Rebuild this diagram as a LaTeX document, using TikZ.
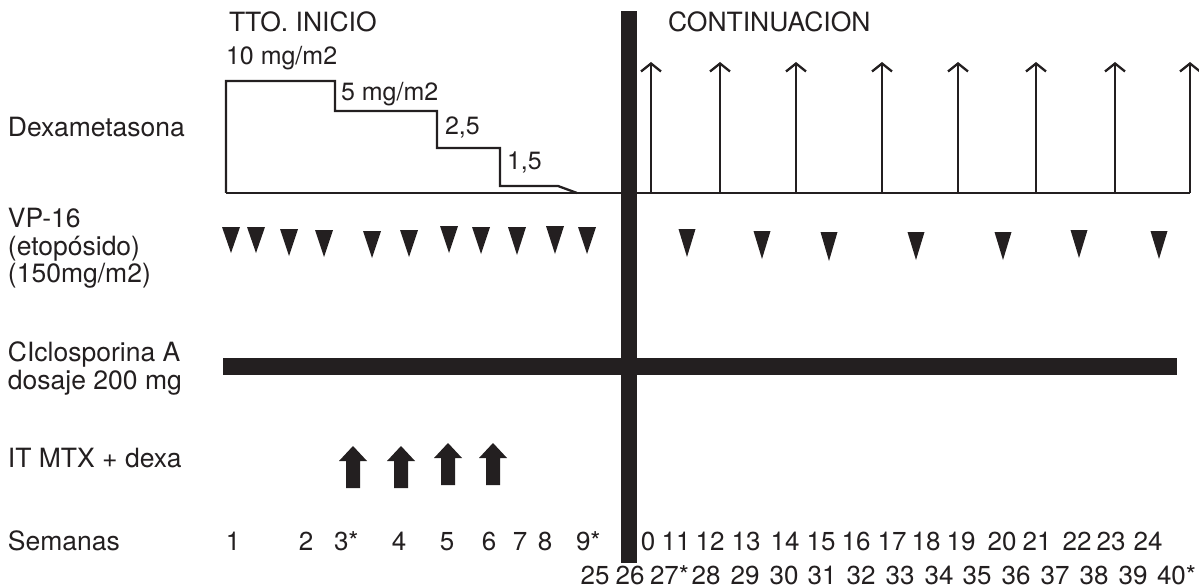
\documentclass[tikz,border=0pt]{standalone}
\usepackage{fontspec}
\setmainfont{TeX Gyre Heros}
\usetikzlibrary{arrows.meta}
\definecolor{ink}{HTML}{231F20}
\begin{document}
\begin{tikzpicture}[x=1pt,y=-1pt,
  every node/.style={inner sep=0pt,outer sep=0pt,text=ink},
  lbl/.style={anchor=base west,font=\fontsize{26.5}{29}\selectfont},
  dlbl/.style={anchor=base west,font=\fontsize{25}{27}\selectfont},
  num/.style={anchor=base,font=\fontsize{26}{28}\selectfont},
  numw/.style={anchor=base west,font=\fontsize{26}{28}\selectfont},
  thin/.style={draw=ink,line width=2.3pt},
  dose/.style={thin,-{Straight Barb[length=8pt,width=20pt,line width=2.3pt]}},
  tri/.style={fill=ink},
  itarrow/.style={fill=ink}]
\useasboundingbox (0,0) rectangle (1199,588);

% headers
\node[lbl] (tto) at (229,32) {TTO. INICIO};
\node[lbl] (cont) at (668,32) {CONTINUACION};

% row labels
\node[lbl] (dexa) at (8,137) {Dexametasona};
\node[lbl] (vp1) at (8,228) {VP-16};
\node[lbl] (vp2) at (8,255) {(etopósido)};
\node[lbl] (vp3) at (8,282) {(150mg/m2)};
\node[lbl] (cy1) at (8,361) {CIclosporina A};
\node[lbl] (cy2) at (8,389) {dosaje 200 mg};
\node[lbl] (it) at (8,467) {IT MTX + dexa};
\node[lbl] (sem) at (8,550) {Semanas};

% dexamethasone dose labels
\node[dlbl] (d10) at (226,65) {10 mg/m2};
\node[dlbl] (d5) at (341,101) {5 mg/m2};
\node[dlbl] (d25) at (445,135) {2,5};
\node[dlbl] (d15) at (507,170) {1,5};

% dexamethasone steps and baseline
\coordinate (b0) at (226,193);
\coordinate (bend) at (1190,193);
\draw[thin,line join=miter] (b0) -- (226,81) -- (335,81) -- (335,111) -- (437,111)
  -- (437,148) -- (500,148) -- (500,186) -- (558,186) -- (577,193);
\draw[thin] (b0) -- (bend);

% continuation pulses
\foreach \x in {651,720,796,882,958,1036,1115,1190}{
  \draw[dose] (\x,193) -- (\x,62);
}

% VP-16 triangles (initial)
\foreach \x/\t/\b in {231/227/253,256/227/253,289/229/256,324/230/257,372/231/258,409/230/257,449/226/253,481/227/254,517/227/255,555/226/254,587/227/254}{
  \fill[tri] (\x-9,\t) -- (\x+9,\t) -- (\x,\b) -- cycle;
}
% VP-16 triangles (continuation)
\foreach \x/\t/\b in {687/229/257,762/231/259,829/232/261,916/232/260,1003/232/260,1079/230/258,1159/231/259}{
  \fill[tri] (\x-8.5,\t) -- (\x+8.5,\t) -- (\x,\b) -- cycle;
}

% cyclosporine bar
\fill[ink] (223,358) rectangle (1177,375);

% IT arrows
\foreach \x/\t/\b in {353/446/488,401/446/488,448/443/485,493/443/485}{
  \fill[itarrow] (\x,\t) -- (\x+14,\t+15) -- (\x+7,\t+15) -- (\x+7,\b) -- (\x-7,\b)
    -- (\x-7,\t+15) -- (\x-14,\t+15) -- cycle;
}

% main divider
\fill[ink] (621,11) rectangle (637,563);

% weeks row 1 (initial)
\node[num] (w1) at (233,550) {1};
\node[num] (w2) at (306,550) {2};
\node[numw] (w3) at (334,550) {3*};
\node[num] (w4) at (399,550) {4};
\node[num] (w5) at (447,550) {5};
\node[num] (w6) at (489,550) {6};
\node[num] (w7) at (520,550) {7};
\node[num] (w8) at (545,550) {8};
\node[numw] (w9) at (576,550) {9*};
% weeks row 1 (continuation)
\foreach \x/\n in {648/0,676/11,710/12,746/13,785/14,821/15,856/16,892/17,926/18,961/19,1002/20,1037/21,1077/22,1111/23,1148/24}{
  \node[num] (r\n) at (\x,550) {\n};
}
% weeks row 2
\foreach \x/\n in {595/25,630/26,706/28,745/29,784/30,822/31,861/32,900/33,939/34,977/35,1016/36,1055/37,1094/38,1133/39}{
  \node[num] (s\n) at (\x,584) {\n};
}
\node[numw] (s27) at (650,584) {27*};
\node[numw] (s40) at (1157,584) {40*};
\end{tikzpicture}
\end{document}
